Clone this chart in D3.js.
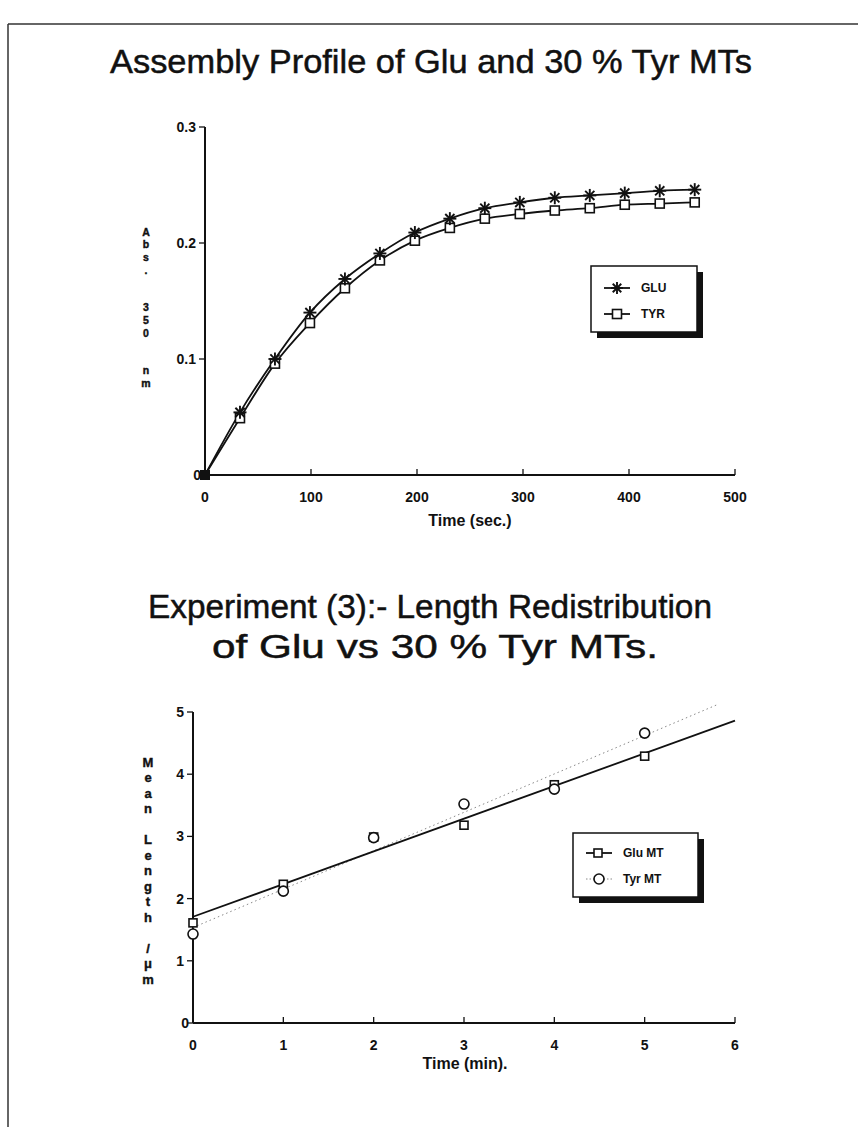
<!DOCTYPE html>
<html>
<head>
<meta charset="utf-8">
<script src="https://cdn.jsdelivr.net/npm/d3@7"></script>
<style>
  html, body { margin: 0; padding: 0; background: #fff; }
  svg { display: block; }
  text { font-family: "Liberation Sans", Arial, sans-serif; fill: #111; }
  .tick-lbl { font-weight: bold; font-size: 14px; }
  .axis-title { font-weight: bold; font-size: 16px; }
  .title { font-size: 34px; stroke: #111; stroke-width: 0.5px;
           font-family: "Liberation Sans Narrow", "Liberation Sans", Arial, sans-serif; }
</style>
</head>
<body>
<svg id="page" width="858" height="1127"></svg>
<script>
// top chart: assembly profile
var timeSec = [0, 33, 66, 99, 132, 165, 198, 231, 264, 297, 330, 363, 396, 429, 462];
var gluAbs = [0, 0.054, 0.100, 0.140, 0.169, 0.191, 0.209, 0.221, 0.230, 0.235, 0.239, 0.241, 0.243, 0.245, 0.246];
var tyrAbs = [0, 0.049, 0.096, 0.131, 0.161, 0.185, 0.202, 0.213, 0.221, 0.225, 0.228, 0.230, 0.233, 0.234, 0.235];
var secTicks = [0, 100, 200, 300, 400, 500];
var absTicks = [0, 0.1, 0.2, 0.3];

// bottom chart: length redistribution
var timeMin = [0, 1, 2, 3, 4, 5];
var gluLength = [1.61, 2.23, 2.99, 3.18, 3.83, 4.29];
var tyrLength = [1.43, 2.12, 2.98, 3.52, 3.76, 4.66];
var minTicks = [0, 1, 2, 3, 4, 5, 6];
var lengthTicks = [0, 1, 2, 3, 4, 5];

var svg = d3.select("#page");

// scanned page border (top and left only)
svg.append("line").attr("x1", 8).attr("y1", 24).attr("x2", 858).attr("y2", 24)
  .attr("stroke", "#333").attr("stroke-width", 1.5);
svg.append("line").attr("x1", 8).attr("y1", 24).attr("x2", 8).attr("y2", 1127)
  .attr("stroke", "#333").attr("stroke-width", 1.5);

function title(txt, x, y, len) {
  svg.append("text").attr("class", "title").attr("x", x).attr("y", y)
    .attr("text-anchor", "middle")
    .attr("textLength", len).attr("lengthAdjust", "spacingAndGlyphs")
    .text(txt);
}
title("Assembly Profile of Glu and 30 % Tyr MTs", 431, 73, 642);
title("Experiment (3):- Length Redistribution", 430, 618, 564);
title("of Glu vs 30 % Tyr MTs.", 435, 658, 446);

// vertical label, one letter per line, as one text element
function stackedLabel(chars, x, y0, step, size) {
  var t = svg.append("text").attr("class", "axis-title")
    .attr("text-anchor", "middle").style("font-size", size + "px")
    .attr("stroke", "#111").attr("stroke-width", 0.4);
  chars.split("").forEach(function(c, i) {
    t.append("tspan").attr("x", x).attr("y", y0 + i * step + size * 0.36)
      .text(c === " " ? "\u00a0" : c);
  });
}

function drawAxes(x, y, xt, yt, xFmt, yFmt) {
  var g = svg.append("g");
  var x0 = x.range()[0], x1 = x.range()[1];
  var y0 = y.range()[0], y1 = y.range()[1];
  g.append("line").attr("x1", x0).attr("x2", x1).attr("y1", y0).attr("y2", y0)
    .attr("stroke", "#111").attr("stroke-width", 2);
  g.append("line").attr("x1", x0).attr("x2", x0).attr("y1", y0).attr("y2", y1)
    .attr("stroke", "#111").attr("stroke-width", 2);
  xt.forEach(function(v) {
    if (v !== xt[0]) {
      g.append("line").attr("x1", x(v)).attr("x2", x(v)).attr("y1", y0).attr("y2", y0 - 6)
        .attr("stroke", "#111").attr("stroke-width", 1.3);
    }
    g.append("text").attr("class", "tick-lbl").attr("x", x(v)).attr("y", y0 + 27)
      .attr("text-anchor", "middle").text(xFmt(v));
  });
  yt.forEach(function(v) {
    g.append("line").attr("x1", x0).attr("x2", x0 - 6).attr("y1", y(v)).attr("y2", y(v))
      .attr("stroke", "#111").attr("stroke-width", 1.3);
    g.append("text").attr("class", "tick-lbl").attr("x", x0 - (v === 0 ? 4 : 9)).attr("y", y(v))
      .attr("dy", "0.35em").attr("text-anchor", "end").text(yFmt(v));
  });
}

function star(g, cx, cy, r) {
  for (var a = 0; a < 4; a += 1) {
    var ang = a * Math.PI / 4;
    g.append("line")
      .attr("x1", cx - r * Math.cos(ang)).attr("y1", cy - r * Math.sin(ang))
      .attr("x2", cx + r * Math.cos(ang)).attr("y2", cy + r * Math.sin(ang))
      .attr("stroke", "#111").attr("stroke-width", 1.9);
  }
}
function square(g, cx, cy, s) {
  g.append("rect").attr("x", cx - s / 2).attr("y", cy - s / 2)
    .attr("width", s).attr("height", s)
    .attr("fill", "#fff").attr("stroke", "#111").attr("stroke-width", 1.6);
}
function circle(g, cx, cy, r) {
  g.append("circle").attr("cx", cx).attr("cy", cy).attr("r", r)
    .attr("fill", "#fff").attr("stroke", "#111").attr("stroke-width", 1.6);
}

function legendBox(x, y, w, h) {
  var g = svg.append("g");
  g.append("rect").attr("x", x + 6).attr("y", y + 6).attr("width", w).attr("height", h).attr("fill", "#111");
  g.append("rect").attr("x", x).attr("y", y).attr("width", w).attr("height", h)
    .attr("fill", "#fff").attr("stroke", "#111").attr("stroke-width", 1.5);
  return g;
}

// ---------- top chart ----------
var xTop = d3.scaleLinear().domain([0, 500]).range([205, 735]);
var yTop = d3.scaleLinear().domain([0, 0.3]).range([475, 127]);
drawAxes(xTop, yTop, secTicks, absTicks, d3.format("d"),
  function(v) { return v === 0 ? "0" : d3.format(".1f")(v); });
svg.append("text").attr("class", "axis-title").attr("x", 470).attr("y", 526)
  .attr("text-anchor", "middle").text("Time (sec.)");
stackedLabel("Abs.  350  nm", 146, 232, 12.6, 10.5);

var lineTop = d3.line().curve(d3.curveMonotoneX)
  .x(function(d) { return xTop(d[0]); })
  .y(function(d) { return yTop(d[1]); });
var gTop = svg.append("g");
[gluAbs, tyrAbs].forEach(function(vals) {
  gTop.append("path").datum(timeSec.map(function(t, i) { return [t, vals[i]]; }))
    .attr("d", lineTop).attr("fill", "none").attr("stroke", "#111").attr("stroke-width", 1.8);
});
timeSec.forEach(function(t, i) {
  if (i === 0) return;
  square(gTop, xTop(t), yTop(tyrAbs[i]), 9);
  star(gTop, xTop(t), yTop(gluAbs[i]), 6.5);
});
gTop.append("rect").attr("x", xTop(0) - 5).attr("y", yTop(0) - 5)
  .attr("width", 10).attr("height", 10).attr("fill", "#111");

var lg1 = legendBox(591, 266, 106, 66);
lg1.append("line").attr("x1", 604).attr("x2", 630).attr("y1", 288).attr("y2", 288)
  .attr("stroke", "#111").attr("stroke-width", 1.8);
star(lg1, 617, 288, 6);
lg1.append("line").attr("x1", 604).attr("x2", 630).attr("y1", 314).attr("y2", 314)
  .attr("stroke", "#111").attr("stroke-width", 1.8);
square(lg1, 617, 314, 9);
lg1.append("text").attr("class", "tick-lbl").attr("x", 641).attr("y", 288).attr("dy", "0.35em")
  .style("font-size", "12px").text("GLU");
lg1.append("text").attr("class", "tick-lbl").attr("x", 641).attr("y", 314).attr("dy", "0.35em")
  .style("font-size", "12px").text("TYR");

// ---------- bottom chart ----------
var xBot = d3.scaleLinear().domain([0, 6]).range([193, 735]);
var yBot = d3.scaleLinear().domain([0, 5]).range([1023, 712]);
drawAxes(xBot, yBot, minTicks, lengthTicks, d3.format("d"), d3.format("d"));
svg.append("text").attr("class", "axis-title").attr("x", 465).attr("y", 1069)
  .attr("text-anchor", "middle").text("Time (min).");
stackedLabel("Mean Length /\u03bcm", 148, 762, 15.5, 13);

function fit(xs, ys) {
  var mx = d3.mean(xs), my = d3.mean(ys);
  var sxy = d3.sum(xs, function(v, i) { return (v - mx) * (ys[i] - my); });
  var sxx = d3.sum(xs, function(v) { return (v - mx) * (v - mx); });
  var b = sxy / sxx;
  return { slope: b, icpt: my - b * mx };
}
var gBot = svg.append("g");
var fGlu = fit(timeMin, gluLength);
var fTyr = fit(timeMin, tyrLength);
gBot.append("line")
  .attr("x1", xBot(0)).attr("y1", yBot(fTyr.icpt))
  .attr("x2", xBot(5.8)).attr("y2", yBot(fTyr.icpt + fTyr.slope * 5.8))
  .attr("stroke", "#888").attr("stroke-width", 1).attr("stroke-dasharray", "1.5,3");
gBot.append("line")
  .attr("x1", xBot(0)).attr("y1", yBot(fGlu.icpt))
  .attr("x2", xBot(6)).attr("y2", yBot(fGlu.icpt + fGlu.slope * 6))
  .attr("stroke", "#111").attr("stroke-width", 1.8);
timeMin.forEach(function(t, i) {
  square(gBot, xBot(t), yBot(gluLength[i]), 8);
  circle(gBot, xBot(t), yBot(tyrLength[i]), 5);
});

var lg2 = legendBox(573, 833, 125, 64);
lg2.append("line").attr("x1", 586).attr("x2", 612).attr("y1", 853).attr("y2", 853)
  .attr("stroke", "#111").attr("stroke-width", 1.8);
square(lg2, 598, 853, 8);
lg2.append("line").attr("x1", 586).attr("x2", 612).attr("y1", 879).attr("y2", 879)
  .attr("stroke", "#888").attr("stroke-width", 1).attr("stroke-dasharray", "1.5,2");
circle(lg2, 599, 879, 5);
lg2.append("text").attr("class", "tick-lbl").attr("x", 623).attr("y", 853).attr("dy", "0.35em")
  .style("font-size", "12px").text("Glu MT");
lg2.append("text").attr("class", "tick-lbl").attr("x", 623).attr("y", 879).attr("dy", "0.35em")
  .style("font-size", "12px").text("Tyr MT");
</script>
</body>
</html>
